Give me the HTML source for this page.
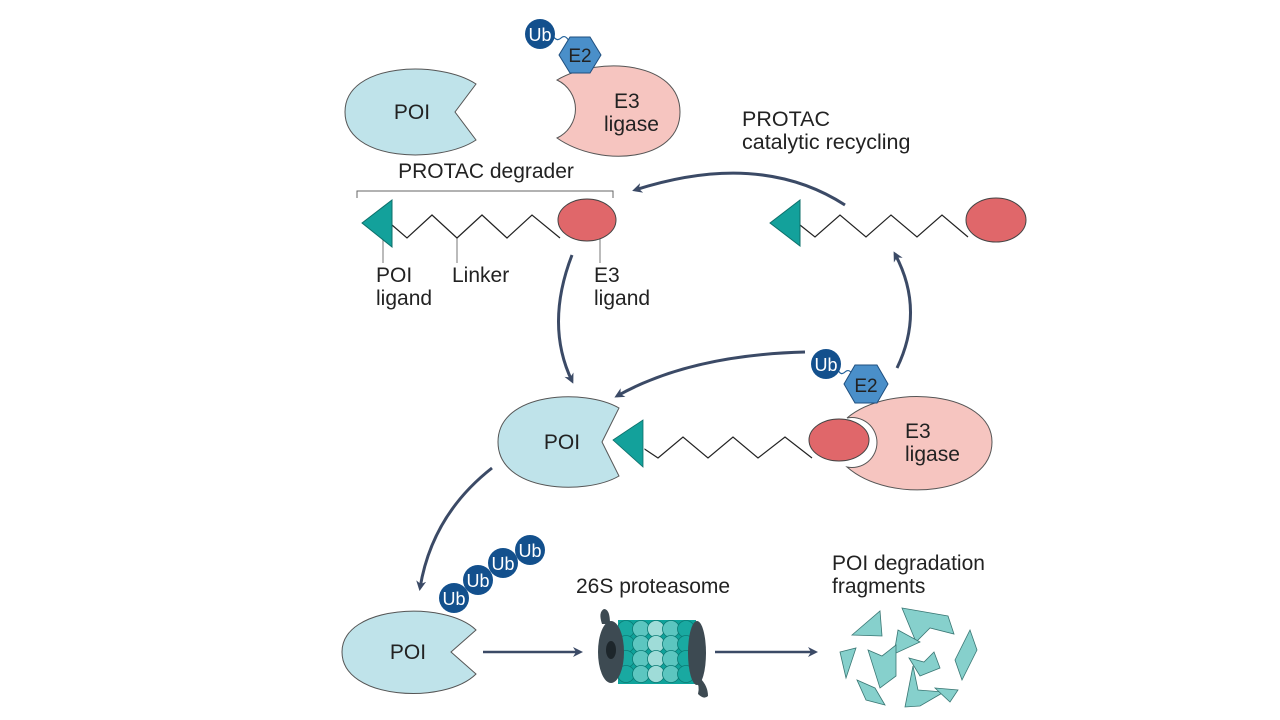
<!DOCTYPE html>
<html><head><meta charset="utf-8"><style>
html,body{margin:0;padding:0;background:#fff;width:1280px;height:720px;overflow:hidden}
svg{display:block}
text{font-family:"Liberation Sans",sans-serif;fill:#222}
</style></head><body>
<svg width="1280" height="720" viewBox="0 0 1280 720" xmlns="http://www.w3.org/2000/svg">
<defs>
<marker id="ah" markerWidth="10" markerHeight="10" refX="7" refY="5" orient="auto" markerUnits="userSpaceOnUse">
<path d="M0,0 L10,5 L0,10 L3,5 Z" fill="#3b4a66"/>
</marker>
</defs>
<g fill="none" stroke="#3b4a66" stroke-width="3" marker-end="url(#ah)">
<path d="M845,205 Q760,150 635,190"/>
<path d="M897,368 Q925,310 895,254"/>
<path d="M572,255 Q545,325 572,381"/>
<path d="M805,352 Q690,355 617,396"/>
<path d="M492,468 Q432,515 420,588"/>
</g>
<g stroke="#3b4a66" stroke-width="2.5" marker-end="url(#ah)">
<line x1="483" y1="652" x2="580" y2="652"/>
<line x1="715" y1="652" x2="815" y2="652"/>
</g>

<!-- Top POI -->
<path d="M476,84 C440,60 345,62 345,112 C345,162 440,164 476,140 L455,112 Z" fill="#bfe3ea" stroke="#555" stroke-width="1"/>
<text x="412" y="119" font-size="21" text-anchor="middle">POI</text>
<!-- Top E3 -->
<path d="M557,80 C600,55 680,62 680,112 C680,162 600,168 557,138 A32,32 0 0 0 557,80 Z" fill="#f6c5c0" stroke="#555" stroke-width="1"/>
<text x="614" y="108" font-size="21">E3</text>
<text x="604" y="131" font-size="21">ligase</text>
<path d="M553,36 q4,6 8,2 q4,-4 8,3" fill="none" stroke="#1f5f99" stroke-width="1.2"/>
<polygon points="570,37 590,37 601,55 590,73 570,73 559,55" fill="#4a8fc9" stroke="#1f4f7f" stroke-width="1"/>
<text x="580" y="62" font-size="19" text-anchor="middle">E2</text>
<circle cx="540" cy="34" r="15" fill="#13508d"/>
<text x="540" y="41" font-size="18" text-anchor="middle" style="fill:#fff">Ub</text>

<!-- PROTAC degrader -->
<text x="486" y="178" font-size="21" text-anchor="middle">PROTAC degrader</text>
<path d="M357,198 V191 H613 V198" fill="none" stroke="#666" stroke-width="1"/>
<g stroke="#777" stroke-width="1">
<line x1="383" y1="238" x2="383" y2="263"/>
<line x1="457" y1="238" x2="457" y2="263"/>
<line x1="600" y1="238" x2="600" y2="263"/>
</g>
<polyline points="392,225 407,238 432,215 457,238 482,215 507,238 532,215 560,238" fill="none" stroke="#222" stroke-width="1.2"/>
<polygon points="362,223 392,200 392,247" fill="#13a19b" stroke="#0d6f6a" stroke-width="1"/>
<ellipse cx="587" cy="220" rx="29" ry="21" fill="#e0676a" stroke="#444" stroke-width="1"/>
<text x="376" y="282" font-size="21">POI</text>
<text x="376" y="305" font-size="21">ligand</text>
<text x="452" y="282" font-size="21">Linker</text>
<text x="594" y="282" font-size="21">E3</text>
<text x="594" y="305" font-size="21">ligand</text>

<text x="742" y="126" font-size="21.5">PROTAC</text>
<text x="742" y="149" font-size="21.5">catalytic recycling</text>

<!-- Right PROTAC -->
<polyline points="800,225 815,237 840,215 866,237 891,215 917,237 942,215 968,237" fill="none" stroke="#222" stroke-width="1.2"/>
<polygon points="770,223 800,200 800,246" fill="#13a19b" stroke="#0d6f6a" stroke-width="1"/>
<ellipse cx="996" cy="220" rx="30" ry="22" fill="#e0676a" stroke="#444" stroke-width="1"/>

<!-- Middle complex -->
<path d="M619,408 C585,388 498,392 498,442 C498,492 585,496 619,476 L602,442 Z" fill="#bfe3ea" stroke="#555" stroke-width="1"/>
<text x="562" y="449" font-size="21" text-anchor="middle">POI</text>
<path d="M847,418 C890,382 992,392 992,442 C992,495 890,505 847,467 A25,25 0 1 0 847,418 Z" fill="#f6c5c0" stroke="#555" stroke-width="1"/>
<text x="905" y="438" font-size="21">E3</text>
<text x="905" y="461" font-size="21">ligase</text>
<polyline points="643,448 658,458 683,437 708,458 733,437 758,458 785,437 812,458" fill="none" stroke="#222" stroke-width="1.2"/>
<polygon points="613,440 643,420 643,467" fill="#13a19b" stroke="#fff" stroke-width="3"/>
<polygon points="613,440 643,420 643,467" fill="#13a19b" stroke="#0d6f6a" stroke-width="0.8"/>
<ellipse cx="839" cy="440" rx="30" ry="21" fill="#e0676a" stroke="#444" stroke-width="1"/>
<path d="M838,370 q3,6 7,2 q4,-4 8,3" fill="none" stroke="#1f5f99" stroke-width="1.2"/>
<polygon points="855,365 877,365 888,384 877,403 855,403 844,384" fill="#4a8fc9" stroke="#1f4f7f" stroke-width="1"/>
<text x="866" y="392" font-size="19" text-anchor="middle">E2</text>
<circle cx="826" cy="364" r="15" fill="#13508d"/>
<text x="826" y="371" font-size="18" text-anchor="middle" style="fill:#fff">Ub</text>

<!-- Bottom POI -->
<path d="M476,630 C445,600 342,605 342,652 C342,700 445,705 476,674 L451,652 Z" fill="#bfe3ea" stroke="#555" stroke-width="1"/>
<text x="408" y="659" font-size="21" text-anchor="middle">POI</text>
<g font-size="18" text-anchor="middle">
<circle cx="530" cy="550" r="15" fill="#13508d"/><text x="530" y="557" style="fill:#fff">Ub</text>
<circle cx="503" cy="563" r="15" fill="#13508d"/><text x="503" y="570" style="fill:#fff">Ub</text>
<circle cx="478" cy="580" r="15" fill="#13508d"/><text x="478" y="587" style="fill:#fff">Ub</text>
<circle cx="454" cy="598" r="15" fill="#13508d"/><text x="454" y="605" style="fill:#fff">Ub</text>
</g>

<text x="576" y="593" font-size="21">26S proteasome</text>
<!-- Proteasome -->
<g>
<path d="M602,624 q-4,-12 2,-15 q6,0 6,15 Z" fill="#3d4a52"/>
<path d="M696,680 q4,6 2,14 q6,6 10,2 q0,-10 -8,-18 Z" fill="#3d4a52"/>
<rect x="618" y="620" width="78" height="64" fill="#0fa39b"/>
<g stroke="#0b7a74" stroke-width="0.8">
<circle cx="626" cy="629" r="8.5" fill="#19a9a1"/><circle cx="641" cy="629" r="8.5" fill="#5cc6c0"/><circle cx="656" cy="629" r="8.5" fill="#9fdcd8"/><circle cx="671" cy="629" r="8.5" fill="#5cc6c0"/><circle cx="686" cy="629" r="8.5" fill="#19a9a1"/>
<circle cx="626" cy="644" r="8.5" fill="#19a9a1"/><circle cx="641" cy="644" r="8.5" fill="#5cc6c0"/><circle cx="656" cy="644" r="8.5" fill="#9fdcd8"/><circle cx="671" cy="644" r="8.5" fill="#5cc6c0"/><circle cx="686" cy="644" r="8.5" fill="#19a9a1"/>
<circle cx="626" cy="659" r="8.5" fill="#19a9a1"/><circle cx="641" cy="659" r="8.5" fill="#5cc6c0"/><circle cx="656" cy="659" r="8.5" fill="#9fdcd8"/><circle cx="671" cy="659" r="8.5" fill="#5cc6c0"/><circle cx="686" cy="659" r="8.5" fill="#19a9a1"/>
<circle cx="626" cy="674" r="8.5" fill="#19a9a1"/><circle cx="641" cy="674" r="8.5" fill="#5cc6c0"/><circle cx="656" cy="674" r="8.5" fill="#9fdcd8"/><circle cx="671" cy="674" r="8.5" fill="#5cc6c0"/><circle cx="686" cy="674" r="8.5" fill="#19a9a1"/>
</g>
<ellipse cx="697" cy="653" rx="9" ry="32" fill="#3d4a52"/>
<ellipse cx="611" cy="652" rx="13" ry="31" fill="#3d4a52"/>
<ellipse cx="611" cy="650" rx="5" ry="9" fill="#1d262b"/>
</g>

<text x="832" y="570" font-size="21">POI degradation</text>
<text x="832" y="593" font-size="21">fragments</text>
<g fill="#86d0cc" stroke="#3a7774" stroke-width="0.8">
<polygon points="852,635 880,611 882,636"/>
<polygon points="902,608 948,616 954,634 930,628 916,642"/>
<polygon points="898,630 920,642 894,654"/>
<polygon points="840,652 856,648 846,678"/>
<polygon points="868,650 882,656 896,645 896,676 880,688"/>
<polygon points="909,658 924,662 934,652 940,668 920,676"/>
<polygon points="970,630 977,650 962,680 955,660"/>
<polygon points="857,680 875,688 885,705 866,700"/>
<polygon points="913,666 918,690 944,692 920,706 905,707"/>
<polygon points="935,688 958,690 950,702"/>
</g>
</svg>
</body></html>
